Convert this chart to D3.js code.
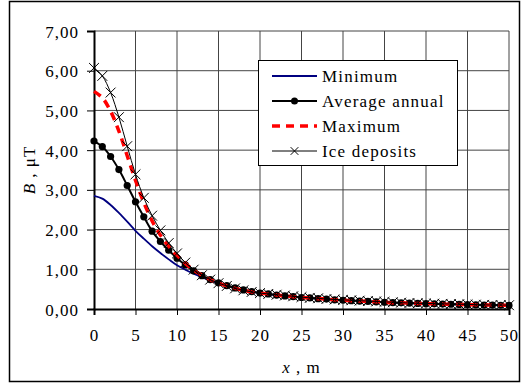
<!DOCTYPE html>
<html>
<head>
<meta charset="utf-8">
<script src="https://cdn.jsdelivr.net/npm/d3@7"></script>
<style>
  body { margin: 0; background: #fff; }
</style>
</head>
<body>
<script>
// distance from axis, m
const xs = d3.range(0, 51);

// field values, uT (x = 0..50)
const minimum = [2.85, 2.78, 2.62, 2.42, 2.20, 1.97, 1.77, 1.58, 1.41, 1.25,
  1.10, 0.99, 0.89, 0.80, 0.72, 0.65, 0.59, 0.53, 0.48, 0.44,
  0.40, 0.37, 0.35, 0.33, 0.31, 0.29, 0.27, 0.26, 0.24, 0.23,
  0.22, 0.21, 0.20, 0.19, 0.18, 0.17, 0.16, 0.155, 0.15, 0.14,
  0.135, 0.13, 0.125, 0.12, 0.115, 0.11, 0.105, 0.10, 0.10, 0.095, 0.09];
const average = [4.23, 4.09, 3.84, 3.51, 3.11, 2.70, 2.32, 1.96, 1.70, 1.48,
  1.28, 1.11, 0.96, 0.84, 0.74, 0.66, 0.59, 0.53, 0.48, 0.44,
  0.40, 0.38, 0.35, 0.33, 0.31, 0.29, 0.28, 0.26, 0.25, 0.23,
  0.22, 0.21, 0.20, 0.19, 0.18, 0.17, 0.16, 0.155, 0.15, 0.14,
  0.135, 0.13, 0.125, 0.12, 0.115, 0.11, 0.105, 0.10, 0.10, 0.095, 0.09];
const maximum = [5.48, 5.32, 4.98, 4.48, 3.86, 3.24, 2.68, 2.22, 1.86, 1.58,
  1.35, 1.15, 0.98, 0.85, 0.74, 0.65, 0.58, 0.52, 0.47, 0.43,
  0.40, 0.38, 0.35, 0.33, 0.31, 0.29, 0.28, 0.26, 0.25, 0.23,
  0.22, 0.21, 0.20, 0.19, 0.18, 0.17, 0.16, 0.155, 0.15, 0.14,
  0.135, 0.13, 0.125, 0.12, 0.115, 0.11, 0.105, 0.10, 0.10, 0.095, 0.09];
const ice = [6.07, 5.87, 5.45, 4.83, 4.10, 3.39, 2.80, 2.35, 1.98, 1.66,
  1.40, 1.17, 0.99, 0.85, 0.74, 0.65, 0.58, 0.52, 0.47, 0.43,
  0.40, 0.38, 0.36, 0.34, 0.32, 0.30, 0.28, 0.27, 0.25, 0.24,
  0.23, 0.22, 0.21, 0.20, 0.19, 0.18, 0.17, 0.16, 0.15, 0.145,
  0.14, 0.135, 0.13, 0.125, 0.12, 0.115, 0.11, 0.105, 0.10, 0.10, 0.095];

const xTicks = d3.range(0, 51, 5);
const yTicks = d3.range(0, 8, 1);
const legendNames = ["Minimum", "Average annual", "Maximum", "Ice deposits"];

const FONT = "Liberation Serif";
const width = 522;
const height = 385;
const svg = d3.select("body").append("svg")
  .attr("width", width)
  .attr("height", height)
  .attr("font-family", FONT);

// outer frame
svg.append("rect")
  .attr("x", 9.5).attr("y", 1.5)
  .attr("width", 510).attr("height", 380)
  .attr("fill", "none").attr("stroke", "#000").attr("stroke-width", 1.5);

const x = d3.scaleLinear().domain([0, 50]).range([94, 509]);
const y = d3.scaleLinear().domain([0, 7]).range([309, 31]);

// grid
svg.append("g").selectAll("line").data(xTicks.filter(d => d > 0)).enter().append("line")
  .attr("x1", d => x(d)).attr("x2", d => x(d))
  .attr("y1", y(7)).attr("y2", y(0))
  .attr("stroke", "#444").attr("stroke-width", 1);
svg.append("g").selectAll("line").data(yTicks.filter(d => d > 0)).enter().append("line")
  .attr("x1", x(0)).attr("x2", x(50))
  .attr("y1", d => y(d)).attr("y2", d => y(d))
  .attr("stroke", "#444").attr("stroke-width", 1);

// axes
const xAxis = d3.axisBottom(x).tickValues(xTicks).tickSize(6).tickPadding(14).tickFormat(d3.format("d"));
const yAxis = d3.axisLeft(y).tickValues(yTicks).tickSize(7).tickPadding(8).tickFormat(d => d.toFixed(2).replace(".", ","));

const gx = svg.append("g").attr("transform", `translate(0,${y(0)})`).call(xAxis);
const gy = svg.append("g").attr("transform", `translate(${x(0)},0)`).call(yAxis);
[gx, gy].forEach(g => {
  g.attr("font-family", FONT).attr("font-size", 17);
  g.select(".domain").attr("stroke", "#000").attr("stroke-width", 2);
  g.selectAll(".tick line").attr("stroke", "#000").attr("stroke-width", 1);
  g.selectAll("text").attr("letter-spacing", 1).attr("fill", "#000");
});
gy.selectAll("text").attr("dy", "0.36em");

// axis titles
const xt = svg.append("text").attr("x", x(25)).attr("y", 373).attr("text-anchor", "middle")
  .attr("font-size", 17).attr("letter-spacing", 1);
xt.append("tspan").attr("font-style", "italic").text("x");
xt.append("tspan").text(" , m");

const yt = svg.append("text").attr("transform", `translate(35,${y(3.5)}) rotate(-90)`)
  .attr("text-anchor", "middle").attr("font-size", 17).attr("letter-spacing", 1);
yt.append("tspan").attr("font-style", "italic").text("B");
yt.append("tspan").text(" , \u03bcT");

// series
const line = d3.line().x((d, i) => x(xs[i])).y(d => y(d)).curve(d3.curveCatmullRom);

svg.append("path").datum(minimum).attr("d", line)
  .attr("fill", "none").attr("stroke", "#000080").attr("stroke-width", 1.8);

svg.append("path").datum(average).attr("d", line)
  .attr("fill", "none").attr("stroke", "#000").attr("stroke-width", 2);
svg.append("g").selectAll("circle").data(average).enter().append("circle")
  .attr("cx", (d, i) => x(xs[i])).attr("cy", d => y(d)).attr("r", 3.6).attr("fill", "#000");

svg.append("path").datum(maximum).attr("d", line)
  .attr("fill", "none").attr("stroke", "#ff0000").attr("stroke-width", 3.5)
  .attr("stroke-dasharray", "8,6");

svg.append("path").datum(ice).attr("d", line)
  .attr("fill", "none").attr("stroke", "#000").attr("stroke-width", 1);
const cross = d3.symbol().type(d3.symbolX).size(65);
svg.append("g").selectAll("path").data(ice).enter().append("path")
  .attr("d", cross)
  .attr("transform", (d, i) => `translate(${x(xs[i])},${y(d)})`)
  .attr("fill", "none").attr("stroke", "#000").attr("stroke-width", 1);

// legend
const lg = svg.append("g");
lg.append("rect").attr("x", 258.5).attr("y", 60.5).attr("width", 199).attr("height", 105)
  .attr("fill", "#fff").attr("stroke", "#000").attr("stroke-width", 1);
const items = lg.selectAll("g").data(legendNames).enter().append("g")
  .attr("transform", (d, i) => `translate(0,${76 + i * 25})`);
items.append("line").attr("x1", 272).attr("x2", 317).attr("y1", 0).attr("y2", 0)
  .attr("stroke", (d, i) => ["#000080", "#000", "#ff0000", "#000"][i])
  .attr("stroke-width", (d, i) => [2, 2, 3.5, 1][i])
  .attr("stroke-dasharray", (d, i) => i === 2 ? "8,6" : null);
items.filter((d, i) => i === 1).append("circle").attr("cx", 294.5).attr("cy", 0).attr("r", 3.5).attr("fill", "#000");
items.filter((d, i) => i === 3).append("path").attr("d", d3.symbol().type(d3.symbolX).size(40))
  .attr("transform", "translate(294.5,0)").attr("fill", "none").attr("stroke", "#000");
items.append("text").attr("x", 322).attr("y", 6).attr("font-size", 17).attr("letter-spacing", 1.2)
  .text(d => d);
</script>
</body>
</html>
